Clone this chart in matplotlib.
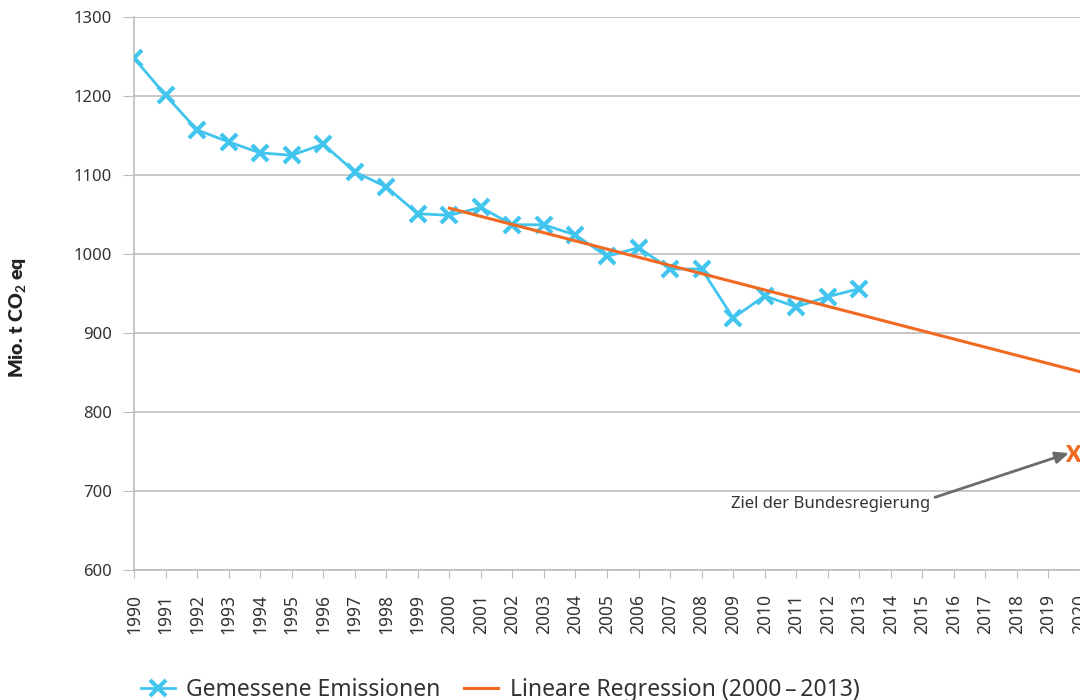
import matplotlib
matplotlib.use("Agg")
import matplotlib.pyplot as plt

plt.rcParams['font.family'] = ['Noto Sans', 'DejaVu Sans']

years = list(range(1990, 2014))
emissions = [1248, 1201, 1157, 1142, 1128, 1125, 1139, 1104, 1085, 1051,
             1049, 1059, 1037, 1037, 1024, 997, 1008, 981, 981, 919,
             947, 933, 946, 956]
reg_years = [2000, 2020]
reg_values = [1058, 851]
target_year = 2020
target_value = 745
tick_years = list(range(1990, 2021))
y_ticks = [600, 700, 800, 900, 1000, 1100, 1200, 1300]

blue = '#41C5EF'
orange = '#F26A21'
grid_c = '#BDBDBD'
text_c = '#333333'

fig = plt.figure(figsize=(10.8, 7), dpi=100)
ax = fig.add_axes([134/1080, 1-570/700, 1-134/1080, (570-17)/700])

ax.plot(years, emissions, color=blue, lw=2, marker='x', ms=11, mew=3,
        label='Gemessene Emissionen', zorder=3)
ax.plot(reg_years, reg_values, color=orange, lw=2.2,
        label='Lineare Regression (2000\u2009\u2013\u20092013)', zorder=4)

ax.text(target_year - 0.23, target_value, 'X', color=orange, fontsize=16,
        fontweight='heavy', family=['Lato', 'DejaVu Sans'],
        ha='center', va='center', clip_on=False)
ax.text(2015.25, 683, 'Ziel der Bundesregierung', fontsize=12, color=text_c,
        ha='right', va='center')
ax.annotate('', xy=(2019.65, 748), xytext=(2015.4, 692),
            arrowprops=dict(arrowstyle='-|>,head_length=0.8,head_width=0.35',
                            color='#6B6B6E', lw=2, shrinkA=0, shrinkB=0))

ax.set_xlim(1990, 2020)
ax.set_ylim(600, 1300)
ax.set_yticks(y_ticks)
ax.set_yticklabels([str(v) for v in y_ticks])
ax.set_xticks(tick_years)
ax.set_xticklabels([str(y) for y in tick_years], rotation=90)
ax.tick_params(axis='x', length=6, color=grid_c, labelsize=12.5, labelcolor=text_c, pad=11)
ax.tick_params(axis='y', length=8, color=grid_c, labelsize=12, labelcolor=text_c, pad=8)

ax.grid(axis='y', color=grid_c, lw=1.2)
ax.set_axisbelow(True)
for s in ['top', 'right']:
    ax.spines[s].set_visible(False)
ax.spines['left'].set_color(grid_c)
ax.spines['left'].set_linewidth(1.2)
ax.spines['bottom'].set_color(grid_c)
ax.spines['bottom'].set_linewidth(1.2)

plt.rcParams['mathtext.fontset'] = 'custom'
plt.rcParams['mathtext.bf'] = 'Lato:bold'
fig.text(18/1080, 1-318/700, r'Mio. t CO$_\mathbf{2}$ eq', rotation=90, fontsize=14,
         fontweight='heavy', family=['Lato', 'DejaVu Sans'],
         ha='center', va='center', color='#222222')

fig.legend(loc='center', bbox_to_anchor=(500/1080, 1-690/700), ncol=2, frameon=False,
           fontsize=16.5, handlelength=1.5, columnspacing=1.0, handletextpad=0.5,
           labelcolor=text_c)

fig.savefig('out.png', dpi=100)
